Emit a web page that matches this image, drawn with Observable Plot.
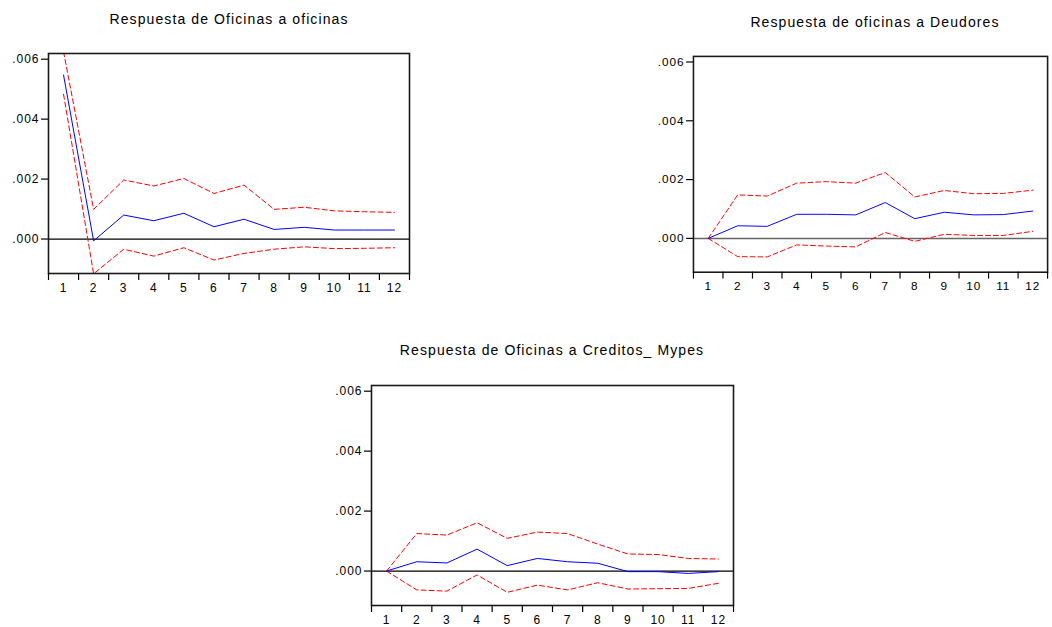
<!DOCTYPE html>
<html><head><meta charset="utf-8">
<script src="https://cdn.jsdelivr.net/npm/d3@7"></script>
<script src="https://cdn.jsdelivr.net/npm/@observablehq/plot@0.6"></script>
<style>
html,body{margin:0;padding:0;background:#fff;}
body{width:1052px;height:627px;overflow:hidden;position:relative;font-family:"Liberation Sans",Arial,sans-serif;}
.panel{position:absolute;}
.panel svg text{letter-spacing:1px;font-size:12px !important;font-family:"Liberation Sans",Arial,sans-serif !important;}
.title{position:absolute;font-size:14px;line-height:16px;letter-spacing:1.1px;color:#000;white-space:nowrap;transform:translateX(-50%);}
</style></head><body>
<script>
// ---- data ----
const periods = [1, 2, 3, 4, 5, 6, 7, 8, 9, 10, 11, 12];
const yTicks = [0, 0.002, 0.004, 0.006];

const titleOficinas = "Respuesta de Oficinas a oficinas";
const titleDeudores = "Respuesta de oficinas a Deudores";
const titleCreditos = "Respuesta de Oficinas a Creditos_ Mypes";

const oficinasResp  = [0.00547, -0.00006, 0.00080, 0.00061, 0.00086, 0.00041, 0.00066, 0.00032, 0.00039, 0.00030, 0.00030, 0.00030];
const oficinasUpper = [0.00625, 0.00099, 0.00197, 0.00177, 0.00202, 0.00152, 0.00180, 0.00099, 0.00106, 0.00094, 0.00091, 0.00089];
const oficinasLower = [0.00483, -0.00116, -0.00034, -0.00057, -0.00029, -0.00070, -0.00048, -0.00034, -0.00026, -0.00032, -0.00031, -0.00029];

const deudoresResp  = [0, 0.00043, 0.00041, 0.00082, 0.00082, 0.00080, 0.00122, 0.00067, 0.00089, 0.00080, 0.00081, 0.00093];
const deudoresUpper = [0, 0.00148, 0.00144, 0.00188, 0.00193, 0.00188, 0.00224, 0.00141, 0.00163, 0.00152, 0.00153, 0.00164];
const deudoresLower = [0, -0.00062, -0.00063, -0.00022, -0.00026, -0.00029, 0.00020, -0.00010, 0.00014, 0.00010, 0.00010, 0.00024];

const creditosResp  = [0, 0.00031, 0.00027, 0.00073, 0.00018, 0.00042, 0.00031, 0.00026, -0.00002, -0.00002, -0.00008, -0.00002];
const creditosUpper = [0, 0.00125, 0.00120, 0.00161, 0.00109, 0.00130, 0.00125, 0.00090, 0.00057, 0.00055, 0.00042, 0.00040];
const creditosLower = [0, -0.00063, -0.00067, -0.00013, -0.00071, -0.00047, -0.00063, -0.00039, -0.00060, -0.00059, -0.00058, -0.00041];

// ---- drawing ----
const bandEdges = periods.map(p => p - 0.5).concat([periods[periods.length - 1] + 0.5]);
const fmt = d => d3.format(".3f")(d).replace(/^0/, "");

function panel(cfg) {
  const rows = periods.map((p, i) => ({period: p, resp: cfg.resp[i], upper: cfg.upper[i], lower: cfg.lower[i]}));
  const chart = Plot.plot({
    width: cfg.width, height: cfg.height,
    marginLeft: cfg.ml, marginRight: cfg.mr, marginTop: cfg.mt, marginBottom: cfg.mb,
    style: {fontFamily: "'Liberation Sans', Arial, sans-serif", fontSize: "12px", color: "#000", background: "transparent", overflow: "visible"},
    x: {domain: [0.5, 12.5]},
    y: {domain: [-0.00115, 0.00619]},
    marks: [
      Plot.ruleY([0], {stroke: cfg.zeroColor, strokeWidth: cfg.zeroWidth}),
      Plot.line(rows, {x: "period", y: "upper", stroke: "#ff0000", strokeWidth: 1, strokeDasharray: "5,3", clip: true}),
      Plot.line(rows, {x: "period", y: "lower", stroke: "#ff0000", strokeWidth: 1, strokeDasharray: "5,3", clip: true}),
      Plot.line(rows, {x: "period", y: "resp", stroke: "#0000ff", strokeWidth: 1, clip: true}),
      Plot.frame({stroke: "#1a1a1a", strokeWidth: 1.6}),
      Plot.axisY({ticks: yTicks, tickFormat: fmt, tickSize: 7, tickPadding: 2, label: null, strokeWidth: 1.2}),
      Plot.axisX({ticks: bandEdges, tickFormat: () => "", tickSize: 7, label: null, strokeWidth: 1.2}),
      Plot.axisX({ticks: periods, tickFormat: d => String(d), tickSize: 0, tickPadding: 10, label: null})
    ]
  });
  const wrap = document.createElement("div");
  wrap.className = "panel";
  wrap.style.left = cfg.left + "px";
  wrap.style.top = cfg.top + "px";
  wrap.appendChild(chart);
  document.body.appendChild(wrap);

  const t = document.createElement("div");
  t.className = "title";
  t.textContent = cfg.title;
  t.style.left = cfg.titleX + "px";
  t.style.top = cfg.titleY + "px";
  document.body.appendChild(t);
}

panel({title: titleOficinas, resp: oficinasResp, upper: oficinasUpper, lower: oficinasLower,
  left: 0, top: 0, width: 420, height: 300, ml: 48, mr: 11, mt: 53, mb: 27,
  zeroColor: "#000", zeroWidth: 1.2, titleX: 229, titleY: 11});

panel({title: titleDeudores, resp: deudoresResp, upper: deudoresUpper, lower: deudoresLower,
  left: 640, top: 0, width: 420, height: 300, ml: 54, mr: 5, mt: 57, mb: 23,
  zeroColor: "#666", zeroWidth: 1.5, titleX: 875, titleY: 14});

panel({title: titleCreditos, resp: creditosResp, upper: creditosUpper, lower: creditosLower,
  left: 320, top: 330, width: 420, height: 300, ml: 51, mr: 7, mt: 55, mb: 25,
  zeroColor: "#000", zeroWidth: 1.2, titleX: 552, titleY: 342});
</script>
</body></html>
